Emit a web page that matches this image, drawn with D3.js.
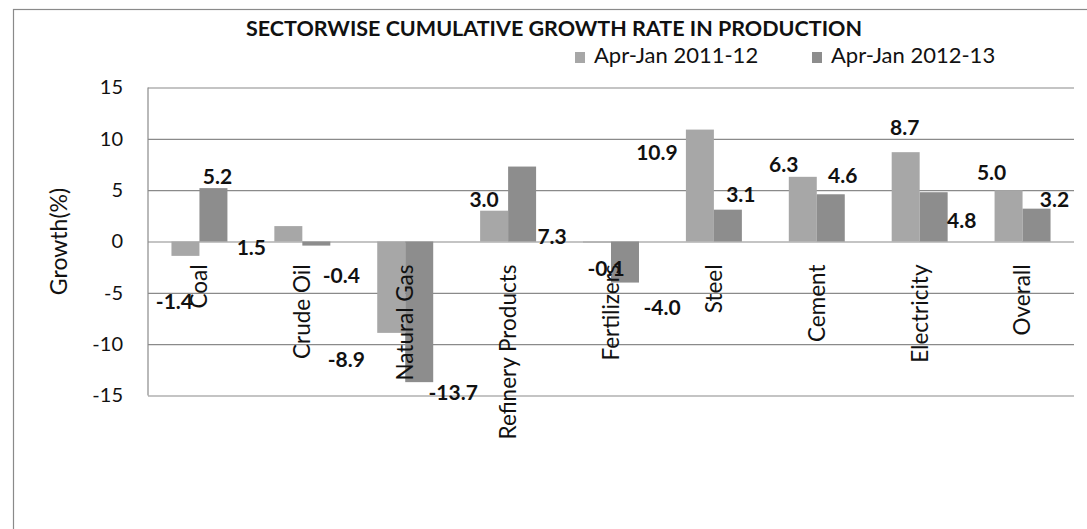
<!DOCTYPE html>
<html>
<head>
<meta charset="utf-8">
<script src="https://cdn.jsdelivr.net/npm/d3@7"></script>
<style>
  body { margin: 0; background: #fff; }
  svg text { font-family: Lato, "Open Sans", sans-serif; fill: #111; }
</style>
</head>
<body>
<script>
// chart data
var categories = ['Coal', 'Crude Oil', 'Natural Gas', 'Refinery Products', 'Fertilizers',
                  'Steel', 'Cement', 'Electricity', 'Overall'];
var seriesNames = ['Apr-Jan 2011-12', 'Apr-Jan 2012-13'];
var growth2011 = [-1.4, 1.5, -8.9, 3.0, -0.1, 10.9, 6.3, 8.7, 5.0];
var growth2012 = [5.2, -0.4, -13.7, 7.3, -4.0, 3.1, 4.6, 4.8, 3.2];
var yTicks = [-15, -10, -5, 0, 5, 10, 15];

// the value labels in the original sit oddly, so nudge each one off its bar end (px)
var nudge2011 = [[-11, 46], [-37, 22], [-45, 27], [-10, -11], [9, 26], [-43, 23], [-19, -12], [-1, -25], [-17, -18]];
var nudge2012 = [[4, -11], [25, 30], [34, 10], [30, 70], [37, 25], [13, -15], [12, -19], [28, 28], [18, -9]];

var width = 1087, height = 529;
var plot = {left: 148, right: 1074, top: 87.5, bottom: 395.5};
var colors = ['#a7a7a7', '#8d8d8d'];

// plain hyphen for negatives, like the original
var fmt1 = function(v) { return v.toFixed(1); };

var svg = d3.select('body').append('svg')
  .attr('width', width)
  .attr('height', height);

// outer frame, runs off the right and bottom edge like the scan
svg.append('rect')
  .attr('x', 13.5).attr('y', 9.5)
  .attr('width', width).attr('height', height)
  .attr('fill', 'none')
  .attr('stroke', '#8a8a8a')
  .attr('stroke-width', 1.2);

var x0 = d3.scaleBand()
  .domain(categories)
  .range([plot.left, plot.right]);

var x1 = d3.scaleBand()
  .domain(seriesNames)
  .range([x0.bandwidth() * 0.228, x0.bandwidth() * 0.772]);

var y = d3.scaleLinear()
  .domain([-15, 15])
  .range([plot.bottom, plot.top]);

// gridlines + tick labels
var yAxis = svg.append('g')
  .attr('transform', 'translate(' + plot.left + ',0)')
  .call(d3.axisLeft(y)
    .tickValues(yTicks)
    .tickFormat(function(d) { return String(d); })
    .tickSize(-(plot.right - plot.left))
    .tickPadding(25));

yAxis.select('.domain').remove();
yAxis.selectAll('.tick line')
  .attr('stroke', '#8a8a8a')
  .attr('stroke-width', 1.2);
yAxis.selectAll('.tick text')
  .style('font-size', '20px')
  .attr('fill', '#222');

// vertical axis line
svg.append('line')
  .attr('x1', plot.left).attr('x2', plot.left)
  .attr('y1', plot.top).attr('y2', plot.bottom)
  .attr('stroke', '#8a8a8a')
  .attr('stroke-width', 1.2);

var rows = categories.map(function(c, i) {
  return {
    category: c,
    values: [
      {series: seriesNames[0], value: growth2011[i], nudge: nudge2011[i], k: 0},
      {series: seriesNames[1], value: growth2012[i], nudge: nudge2012[i], k: 1}
    ]
  };
});

var groups = svg.selectAll('g.cat')
  .data(rows)
  .enter().append('g')
  .attr('class', 'cat')
  .attr('transform', function(d) { return 'translate(' + x0(d.category) + ',0)'; });

groups.selectAll('rect')
  .data(function(d) { return d.values; })
  .enter().append('rect')
  .attr('x', function(d) { return x1(d.series); })
  .attr('width', x1.bandwidth())
  .attr('y', function(d) { return y(Math.max(0, d.value)); })
  .attr('height', function(d) { return Math.abs(y(d.value) - y(0)); })
  .attr('fill', function(d) { return colors[d.k]; });

// category names, rotated, hanging just under the zero line
groups.append('text')
  .attr('transform', 'translate(' + (x0.bandwidth() / 2) + ',' + (y(0) + 23) + ') rotate(-90)')
  .attr('text-anchor', 'end')
  .attr('dy', '0.35em')
  .style('font-size', '22.5px')
  .text(function(d) { return d.category; });

// value labels
groups.selectAll('text.val')
  .data(function(d) { return d.values; })
  .enter().append('text')
  .attr('class', 'val')
  .attr('x', function(d) { return x1(d.series) + x1.bandwidth() / 2 + d.nudge[0]; })
  .attr('y', function(d) { return y(d.value) + d.nudge[1]; })
  .attr('dy', '0.35em')
  .attr('text-anchor', 'middle')
  .style('font-size', '21px')
  .style('font-weight', 'bold')
  .text(function(d) { return fmt1(d.value); });

// title
svg.append('text')
  .attr('x', 554)
  .attr('y', 36)
  .attr('text-anchor', 'middle')
  .style('font-size', '21.5px')
  .style('font-weight', 'bold')
  .text('SECTORWISE CUMULATIVE GROWTH RATE IN PRODUCTION');

// legend
var legend = svg.selectAll('g.legend')
  .data(seriesNames)
  .enter().append('g')
  .attr('class', 'legend')
  .attr('transform', function(d, i) { return 'translate(' + (575 + i * 237) + ',0)'; });

legend.append('rect')
  .attr('y', 52)
  .attr('width', 10).attr('height', 11)
  .attr('fill', function(d, i) { return colors[i]; });

legend.append('text')
  .attr('x', 19)
  .attr('y', 63)
  .style('font-size', '22px')
  .text(function(d) { return d; });

// y axis title
svg.append('text')
  .attr('transform', 'translate(59,' + y(0) + ') rotate(-90)')
  .attr('text-anchor', 'middle')
  .attr('dy', '0.35em')
  .style('font-size', '23px')
  .text('Growth(%)');
</script>
</body>
</html>
